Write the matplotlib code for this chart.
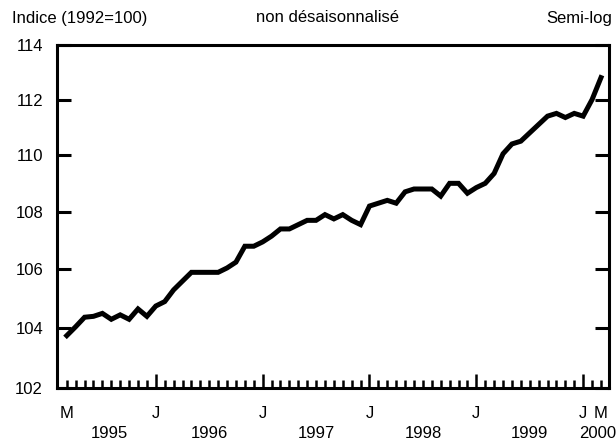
import numpy as np
import matplotlib.pyplot as plt
from matplotlib.ticker import FixedLocator, NullFormatter

plt.rcParams['font.family'] = ['Liberation Sans', 'DejaVu Sans']

# monthly index, March 1995 .. March 2000
v1995 = [103.75, 104.05, 104.37, 104.4, 104.5, 104.3, 104.45, 104.3, 104.65, 104.4]
v1996 = [104.75, 104.9, 105.3, 105.6, 105.9, 105.9, 105.9, 105.9, 106.05, 106.25, 106.8, 106.8]
v1997 = [106.95, 107.15, 107.4, 107.4, 107.55, 107.7, 107.7, 107.9, 107.75, 107.9, 107.7, 107.55]
v1998 = [108.2, 108.3, 108.4, 108.3, 108.7, 108.8, 108.8, 108.8, 108.55, 109.0, 109.0, 108.65]
v1999 = [108.85, 109.0, 109.35, 110.05, 110.4, 110.5, 110.8, 111.1, 111.4, 111.5, 111.35, 111.5]
v2000 = [111.4, 112.0, 112.8]
values = v1995 + v1996 + v1997 + v1998 + v1999 + v2000
months = np.arange(len(values))  # 0 = March 1995

yticks = [102, 104, 106, 108, 110, 112, 114]
jan_pos = [10, 22, 34, 46, 58]
month_letters = [(0, 'M'), (10, 'J'), (22, 'J'), (34, 'J'), (46, 'J'), (58, 'J'), (60, 'M')]
year_labels = [(4.8, '1995'), (16, '1996'), (28, '1997'), (40, '1998'), (52, '1999'), (59.6, '2000')]

fs = 12

fig = plt.figure(figsize=(6.16, 4.41), dpi=100)
ax = fig.add_axes([0.0925, 0.120, 0.8961, 0.778])

ax.plot(months, values, color='black', lw=3.6, solid_joinstyle='miter')

ax.set_yscale('log')
ax.set_ylim(102, 114)
ax.yaxis.set_major_locator(FixedLocator(yticks))
ax.yaxis.set_minor_locator(FixedLocator([]))
ax.set_yticks(yticks)
ax.set_yticklabels([str(t) for t in yticks])
ax.yaxis.set_minor_formatter(NullFormatter())
ax.tick_params(axis='y', which='major', direction='in', left=True, right=True,
               length=10, width=2.2, labelsize=fs, pad=10)

ax.set_xlim(-1.1, 60.9)
ax.set_xticks(jan_pos)
ax.set_xticklabels([])
ax.set_xticks(months, minor=True)
ax.tick_params(axis='x', which='major', direction='in', length=10, width=1.8, top=False)
ax.tick_params(axis='x', which='minor', direction='in', length=6, width=1.8, top=False)

for s in ax.spines.values():
    s.set_linewidth(2.2)

tr = ax.get_xaxis_transform()
for x, t in month_letters:
    ax.annotate(t, xy=(x, 0), xycoords=tr, xytext=(0, -18.5), textcoords='offset points',
                ha='center', va='center', fontsize=fs)
for x, t in year_labels:
    ax.annotate(t, xy=(x, 0), xycoords=tr, xytext=(0, -32.5), textcoords='offset points',
                ha='center', va='center', fontsize=fs)

fig.text(12 / 616, 1 - 18 / 441, 'Indice (1992=100)', ha='left', va='center', fontsize=fs)
fig.text(328 / 616, 1 - 18 / 441, 'non désaisonnalisé', ha='center', va='center', fontsize=fs)
fig.text(612 / 616, 1 - 18 / 441, 'Semi-log', ha='right', va='center', fontsize=fs)

fig.savefig('out.png', dpi=100)
